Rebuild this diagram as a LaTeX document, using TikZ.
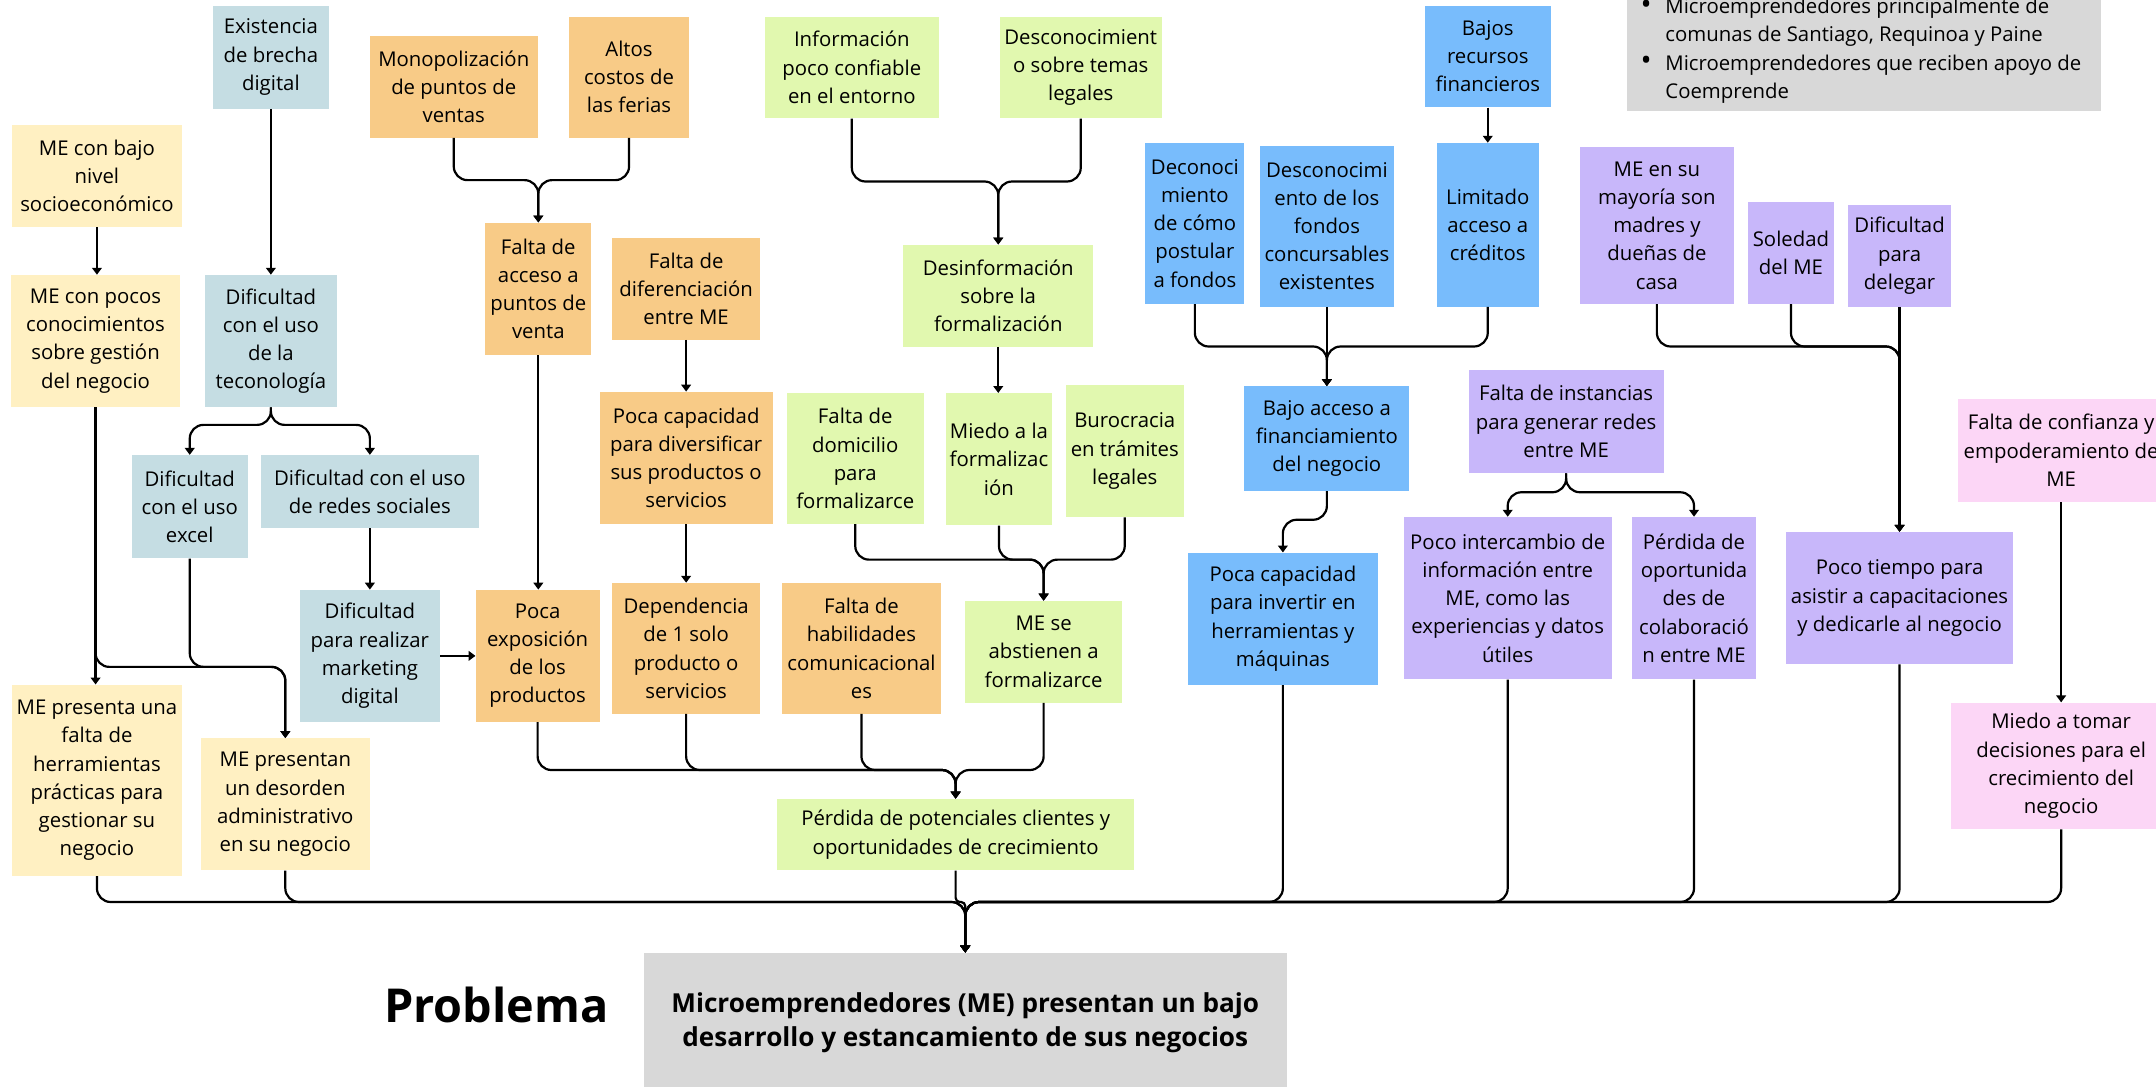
\documentclass[tikz,border=0pt]{standalone}
\usepackage{fontspec}
\setmainfont{Open Sans}
\usetikzlibrary{arrows.meta}

\definecolor{cYel}{HTML}{FFF0C2}
\definecolor{cBlg}{HTML}{C5DDE3}
\definecolor{cOrg}{HTML}{F8CB87}
\definecolor{cGrn}{HTML}{E1F8AF}
\definecolor{cBlu}{HTML}{78BCFC}
\definecolor{cPur}{HTML}{C8B7FA}
\definecolor{cPnk}{HTML}{FCD6F6}
\definecolor{cGry}{HTML}{D8D8D8}

% box given by its corners: name, x1, y1, x2, y2, style, text
\newcommand\mkbox[7]{%
  \node[#6, minimum width={#4-#2}, minimum height={#5-#3}] (#1)
    at ({(#2+#4)/2},{(#3+#5)/2}) {#7};}
% list bullet
\newcommand\popbullet{\makebox[18pt][l]{\raisebox{-0.6pt}{\scalebox{1.45}{•}}}}

\begin{document}
\begin{tikzpicture}[x=1pt,y=-1pt,
  box/.style={rectangle, inner sep=0pt, align=center,
    font=\fontsize{14.8}{20.5}\selectfont},
  yel/.style={box, fill=cYel},
  blg/.style={box, fill=cBlg},
  org/.style={box, fill=cOrg},
  grn/.style={box, fill=cGrn},
  blu/.style={box, fill=cBlu},
  pur/.style={box, fill=cPur},
  pnk/.style={box, fill=cPnk},
  gry/.style={box, fill=cGry},
  probtext/.style={font=\bfseries\fontsize{19}{24.5}\selectfont},
  infotext/.style={anchor=base west, inner sep=0pt, font=\fontsize{14.8}{20.5}\selectfont},
  conn/.style={draw, line width=1.6pt, rounded corners=10pt,
    -{Triangle[length=5pt,width=7pt]}}]

\useasboundingbox (0,0) rectangle (1568,790);
\clip (0,0) rectangle (1568,790);

% ---------- boxes ----------
\mkbox{ex}{155}{4}{239}{79}{blg}{Existencia\\de brecha\\digital}
\mkbox{mono}{269}{26}{391}{100}{org}{Monopolización\\de puntos de\\ventas}
\mkbox{altos}{414}{12}{501}{100}{org}{Altos\\costos de\\las ferias}
\mkbox{bajo}{9}{91}{132}{165}{yel}{ME con bajo\\nivel\\socioeconómico}
\mkbox{pocos}{8}{200}{131}{296}{yel}{ME con pocos\\conocimientos\\sobre gestión\\del negocio}
\mkbox{tecno}{149}{200}{245}{296}{blg}{Dificultad\\con el uso\\de la\\teconología}
\mkbox{acceso}{353}{162}{430}{258}{org}{Falta de\\acceso a\\puntos de\\venta}
\mkbox{difer}{445}{173}{553}{247}{org}{Falta de\\diferenciación\\entre ME}
\mkbox{divers}{436}{285}{562}{381}{org}{Poca capacidad\\para diversificar\\sus productos o\\servicios}
\mkbox{excel}{96}{331}{180}{406}{blg}{Dificultad\\con el uso\\excel}
\mkbox{redes}{190}{331}{348}{384}{blg}{Dificultad con el uso\\de redes sociales}
\mkbox{mkt}{218}{429}{320}{525}{blg}{Dificultad\\para realizar\\marketing\\digital}
\mkbox{expo}{346}{429}{436}{525}{org}{Poca\\exposición\\de los\\productos}
\mkbox{depend}{445}{424}{553}{519}{org}{Dependencia\\de 1 solo\\producto o\\servicios}
\mkbox{habil}{569}{424}{684}{519}{org}{Falta de\\habilidades\\comunicacional\\es}
\mkbox{abst}{702}{437}{816}{511}{grn}{ME se\\abstienen a\\formalizarce}
\mkbox{herr}{9}{498}{132}{637}{yel}{ME presenta una\\falta de\\herramientas\\prácticas para\\gestionar su\\negocio}
\mkbox{desord}{146}{537}{269}{633}{yel}{ME presentan\\un desorden\\administrativo\\en su negocio}
\mkbox{perd}{565}{581}{825}{633}{grn}{Pérdida de potenciales clientes y\\oportunidades de crecimiento}
\mkbox{info}{556}{12}{683}{86}{grn}{Información\\poco confiable\\en el entorno}
\mkbox{desleg}{727}{12}{845}{86}{grn}{Desconocimient\\o sobre temas\\legales}
\mkbox{desinf}{657}{178}{795}{252}{grn}{Desinformación\\sobre la\\formalización}
\mkbox{domic}{572}{286}{672}{381}{grn}{Falta de\\domicilio\\para\\formalizarce}
\mkbox{miedo}{688}{286}{765}{382}{grn}{Miedo a la\\formalizac\\ión}
\mkbox{buro}{775}{280}{861}{376}{grn}{Burocracia\\en trámites\\legales}
\mkbox{bajos}{1036}{4}{1128}{78}{blu}{Bajos\\recursos\\financieros}
\mkbox{postul}{833}{104}{905}{221}{blu}{Deconoci\\miento\\de cómo\\postular\\a fondos}
\mkbox{fondos}{916}{106}{1014}{223}{blu}{Desconocimi\\ento de los\\fondos\\concursables\\existentes}
\mkbox{limit}{1045}{104}{1119}{223}{blu}{Limitado\\acceso a\\créditos}
\mkbox{bajoacc}{905}{281}{1025}{357}{blu}{Bajo acceso a\\financiamiento\\del negocio}
\mkbox{invert}{864}{402}{1002}{498}{blu}{Poca capacidad\\para invertir en\\herramientas y\\máquinas}
\mkbox{madres}{1149}{107}{1261}{221}{pur}{ME en su\\mayoría son\\madres y\\dueñas de\\casa}
\mkbox{soledad}{1271}{147}{1334}{221}{pur}{Soledad\\del ME}
\mkbox{delegar}{1344}{149}{1419}{223}{pur}{Dificultad\\para\\delegar}
\mkbox{inst}{1068}{269}{1210}{344}{pur}{Falta de instancias\\para generar redes\\entre ME}
\mkbox{interc}{1021}{376}{1172}{494}{pur}{Poco intercambio de\\información entre\\ME, como las\\experiencias y datos\\útiles}
\mkbox{colab}{1187}{376}{1277}{494}{pur}{Pérdida de\\oportunida\\des de\\colaboració\\n entre ME}
\mkbox{tiempo}{1299}{387}{1464}{483}{pur}{Poco tiempo para\\asistir a capacitaciones\\y dedicarle al negocio}
\mkbox{confi}{1424}{290}{1574}{365}{pnk}{Falta de confianza y\\empoderamiento de\\ME}
\mkbox{tomar}{1419}{511}{1579}{603}{pnk}{Miedo a tomar\\decisiones para el\\crecimiento del\\negocio}
\mkbox{prob}{468}{693}{936}{795}{gry, probtext}{Microemprendedores (ME) presentan un bajo\\desarrollo y estancamiento de sus negocios}

\node[font=\bfseries\fontsize{34}{40}\selectfont] (problabel) at (361,731) {Problema};

% target population box
\node[fill=cGry, inner sep=0pt, minimum width=345, minimum height=111] (pop) at (1355.5,25.5) {};
\node[infotext] (pop1) at (1193,10) {\popbullet Microemprendedores principalmente de};
\node[infotext] (pop2) at (1211,30.5) {comunas de Santiago, Requinoa y Paine};
\node[infotext] (pop3) at (1193,51) {\popbullet Microemprendedores que reciben apoyo de};
\node[infotext] (pop4) at (1211,71.5) {Coemprende};

% ---------- junction points ----------
\coordinate (j1) at (391.5,131);
\coordinate (j2) at (197,309);
\coordinate (j3) at (207.5,485);
\coordinate (j4) at (695,560);
\coordinate (j5) at (726,132);
\coordinate (j6) at (759,407);
\coordinate (j7) at (965,252);
\coordinate (j8) at (933,378);
\coordinate (j9) at (1381.5,252);
\coordinate (j10) at (1139,358);
\coordinate (j11) at (702,656);

% ---------- connectors ----------
\draw[conn] (bajo.south) -- (bajo.south |- pocos.north);
\draw[conn] (ex.south) -- (tecno.north);
\draw[conn] (mono.south) |- (j1) -- (acceso.north);
\draw[conn] (altos.south) |- (j1) -- (acceso.north);
\draw[conn] (tecno.south) -- (j2) -| (excel.north);
\draw[conn] (tecno.south) -- (j2) -| (redes.north);
\draw[conn] (redes.south) -- (mkt.north);
\draw[conn] (mkt.east) -- (expo.west);
\draw[conn] (acceso.south) -- (acceso.south |- expo.north);
\draw[conn] (difer.south) -- (divers.north);
\draw[conn] (divers.south) -- (depend.north);
\draw[conn] (pocos.south) -- (pocos.south |- herr.north);
\draw[conn] (pocos.south) |- (j3) -- (desord.north);
\draw[conn] (excel.south) |- (j3) -- (desord.north);
\draw[conn] (expo.south) |- (j4) -- (perd.north);
\draw[conn] (depend.south) |- (j4) -- (perd.north);
\draw[conn] (habil.south) |- (j4) -- (perd.north);
\draw[conn] (abst.south) |- (j4) -- (perd.north);
\draw[conn] (info.south) |- (j5) -- (desinf.north);
\draw[conn] (desleg.south) |- (j5) -- (desinf.north);
\draw[conn] (desinf.south) -- (desinf.south |- miedo.north);
\draw[conn] (domic.south) |- (j6) -- (abst.north);
\draw[conn] (miedo.south) |- (j6) -- (abst.north);
\draw[conn] (buro.south) |- (j6) -- (abst.north);
\draw[conn] (bajos.south) -- (limit.north);
\draw[conn] (postul.south) |- (j7) -- (bajoacc.north);
\draw[conn] (fondos.south) -- (bajoacc.north);
\draw[conn] (limit.south) |- (j7) -- (bajoacc.north);
\draw[conn] (bajoacc.south) |- (j8) -- (invert.north);
\draw[conn] (madres.south) |- (j9) -- (tiempo.north);
\draw[conn] (soledad.south) |- (j9) -- (tiempo.north);
\draw[conn] (delegar.south) -- (tiempo.north);
\draw[conn] (inst.south) -- (j10) -| (interc.north);
\draw[conn] (inst.south) -- (j10) -| (colab.north);
\draw[conn] (confi.south) -- (tomar.north);

% everything converges on the problem statement
\foreach \src in {herr, desord, invert, interc, colab, tiempo, tomar}
  \draw[conn] (\src.south) |- (j11) -- (prob.north);
\draw[conn, rounded corners=3pt] (perd.south) |- (j11) -- (prob.north);

\end{tikzpicture}
\end{document}
